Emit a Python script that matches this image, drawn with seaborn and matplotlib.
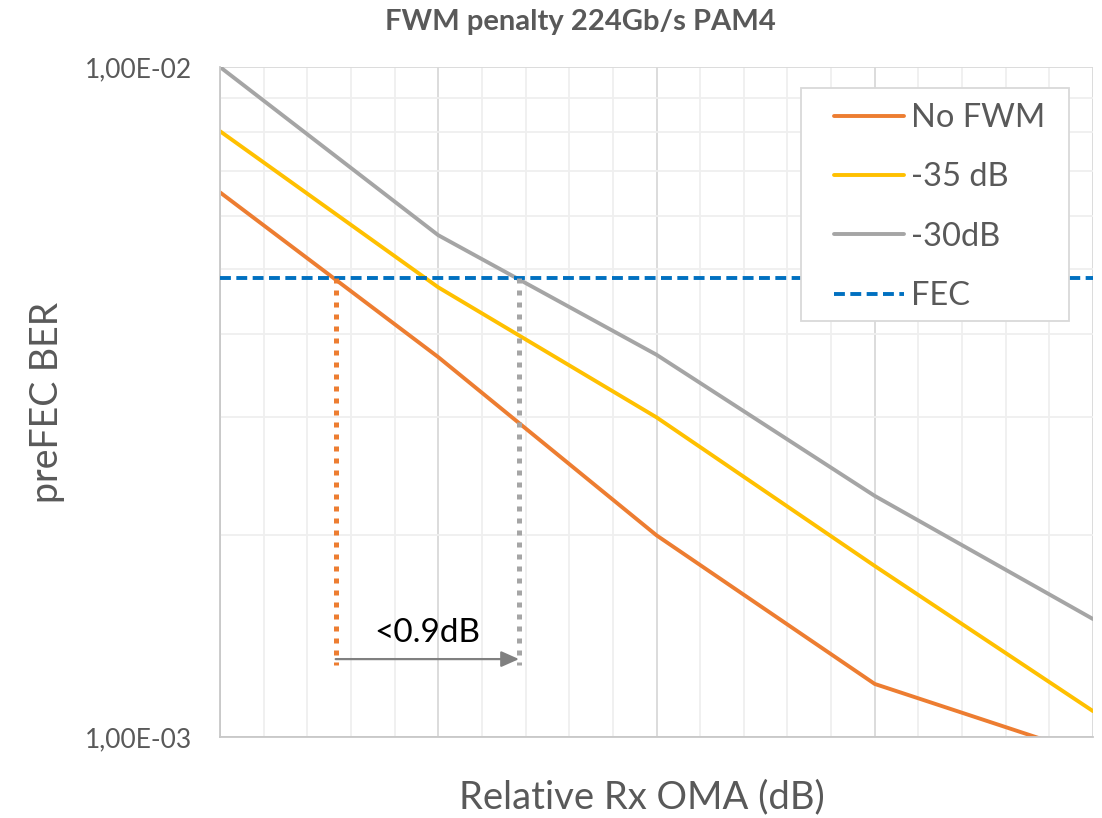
import numpy as np
import pandas as pd
import matplotlib
matplotlib.use("Agg")
import matplotlib.pyplot as plt
from matplotlib.ticker import FixedLocator, MultipleLocator, FuncFormatter, NullFormatter
from matplotlib.lines import Line2D
from matplotlib.patches import Rectangle
import seaborn as sns

# Relative Rx OMA steps (dB) and measured pre-FEC BER per FWM level
rx_oma = [0, 1, 2, 3, 4]
ber_no_fwm = [6.50e-3, 3.69e-3, 2.00e-3, 1.20e-3, 9.37e-4]
ber_fwm_35 = [8.02e-3, 4.69e-3, 3.00e-3, 1.80e-3, 1.093e-3]
ber_fwm_30 = [1.00e-2, 5.61e-3, 3.72e-3, 2.29e-3, 1.50e-3]
series_names = ["No FWM", "-35 dB", "-30dB"]

fec_threshold = 4.85e-3
# Rx OMA where the no-FWM and -30 dB curves cross the FEC threshold
cross_no_fwm = 0.53
cross_fwm_30 = 1.37
marker_floor = 1.28e-3
arrow_level = 1.307e-3
penalty_label = "<0.9dB"

ytick_values = [1e-3, 1e-2]

colors = {"No FWM": "#ED7D31", "-35 dB": "#FFC000", "-30dB": "#A5A5A5"}
fec_color = "#0070C0"
text_color = "#595959"

df = pd.DataFrame({
    "rx": rx_oma * 3,
    "ber": ber_no_fwm + ber_fwm_35 + ber_fwm_30,
    "series": [n for n in series_names for _ in rx_oma],
})

sns.set_theme(style="white")
plt.rcParams["font.family"] = ["Lato", "DejaVu Sans"]

W, H = 1102, 818
fig = plt.figure(figsize=(W / 100, H / 100), dpi=100)
ax = fig.add_axes([220 / W, 1 - 737 / H, 873 / W, 670 / H])

lw = 2.8
fec_dash = (0, (2.8, 1.4))
sns.lineplot(data=df, x="rx", y="ber", hue="series", hue_order=series_names,
             palette=colors, linewidth=lw, sort=False, legend=False, ax=ax)

ax.set_yscale("log")
ax.set_xlim(0, 4)
ax.set_ylim(1e-3, 1e-2)

# grid: major every 1 dB / decade, minor at 0.2 dB and 2..9 per decade
ax.xaxis.set_major_locator(MultipleLocator(1))
ax.xaxis.set_minor_locator(MultipleLocator(0.2))
ax.xaxis.set_major_formatter(NullFormatter())
ax.yaxis.set_major_locator(FixedLocator(ytick_values))
ax.yaxis.set_minor_locator(FixedLocator([k * 1e-3 for k in range(2, 10)]))
ax.yaxis.set_minor_formatter(NullFormatter())
ax.yaxis.set_major_formatter(FuncFormatter(lambda v, _: ("%.2E" % v).replace(".", ",")))
ax.grid(which="minor", color="#efefef", linewidth=1.3, zorder=0)
ax.grid(which="major", color="#d9d9d9", linewidth=1.3, zorder=0)
ax.set_axisbelow(True)
ax.tick_params(which="both", length=0)
ax.tick_params(axis="y", labelsize=19, labelcolor=text_color, pad=20)

for side in ["top", "right"]:
    ax.spines[side].set_visible(False)
for side in ["left", "bottom"]:
    ax.spines[side].set_color("#c8c8c8")
    ax.spines[side].set_linewidth(1.3)

# FEC threshold
ax.axhline(fec_threshold, color=fec_color, linewidth=lw, linestyle=fec_dash, zorder=3)

# penalty markers down from the threshold crossings
dot_style = dict(linewidth=3.6, linestyle=(0, (1.0, 1.4)), dash_capstyle="butt", zorder=3)
ax.plot([cross_no_fwm, cross_no_fwm], [fec_threshold, marker_floor],
        color=colors["No FWM"], **dot_style)
ax.plot([cross_fwm_30, cross_fwm_30], [fec_threshold, marker_floor],
        color=colors["-30dB"], **dot_style)
ax.annotate("", xy=(cross_fwm_30, arrow_level), xytext=(cross_no_fwm, arrow_level),
            arrowprops=dict(arrowstyle="-|>,head_length=0.9,head_width=0.4",
                            color="#808080", linewidth=1.6, shrinkA=0, shrinkB=0),
            zorder=4)
ax.text((cross_no_fwm + cross_fwm_30) / 2, 1.43e-3, penalty_label,
        ha="center", va="center", fontsize=24, color="black")

ax.set_xlabel("Relative Rx OMA (dB)", fontsize=27.5, color=text_color)
ax.xaxis.set_label_coords((642 - 220) / 873, -(797 - 737) / 670)
ax.xaxis.label.set_va("center")
ax.set_ylabel("preFEC BER", fontsize=27, color=text_color)
ax.yaxis.set_label_coords(-(220 - 47) / 873, 0.5)
ax.yaxis.label.set_va("center")

fig.text(580 / W, 1 - 22 / H, "FWM penalty 224Gb/s PAM4", ha="center",
         va="center", fontsize=21, fontweight="bold", color=text_color)


def ax_frac(px, py):
    return ((px - 220) / 873, (737 - py) / 670)


# legend box
x0, y0 = ax_frac(801, 321)
x1, y1 = ax_frac(1069, 88)
ax.add_patch(Rectangle((x0, y0), x1 - x0, y1 - y0, transform=ax.transAxes,
                       facecolor="white", edgecolor="#d9d9d9", linewidth=1.3,
                       zorder=5))

handles = [Line2D([], [], color=colors[n], linewidth=lw) for n in series_names]
handles.append(Line2D([], [], color=fec_color, linewidth=lw, linestyle=fec_dash))
leg = ax.legend(handles, series_names + ["FEC"], loc="upper left",
                bbox_to_anchor=ax_frac(834, 103),
                fontsize=23.5, frameon=False, handlelength=2.15, handletextpad=0.22,
                labelspacing=0.9, borderpad=0, borderaxespad=0)
leg.set_zorder(6)
for t in leg.get_texts():
    t.set_color(text_color)

fig.savefig("out.png", dpi=100)
